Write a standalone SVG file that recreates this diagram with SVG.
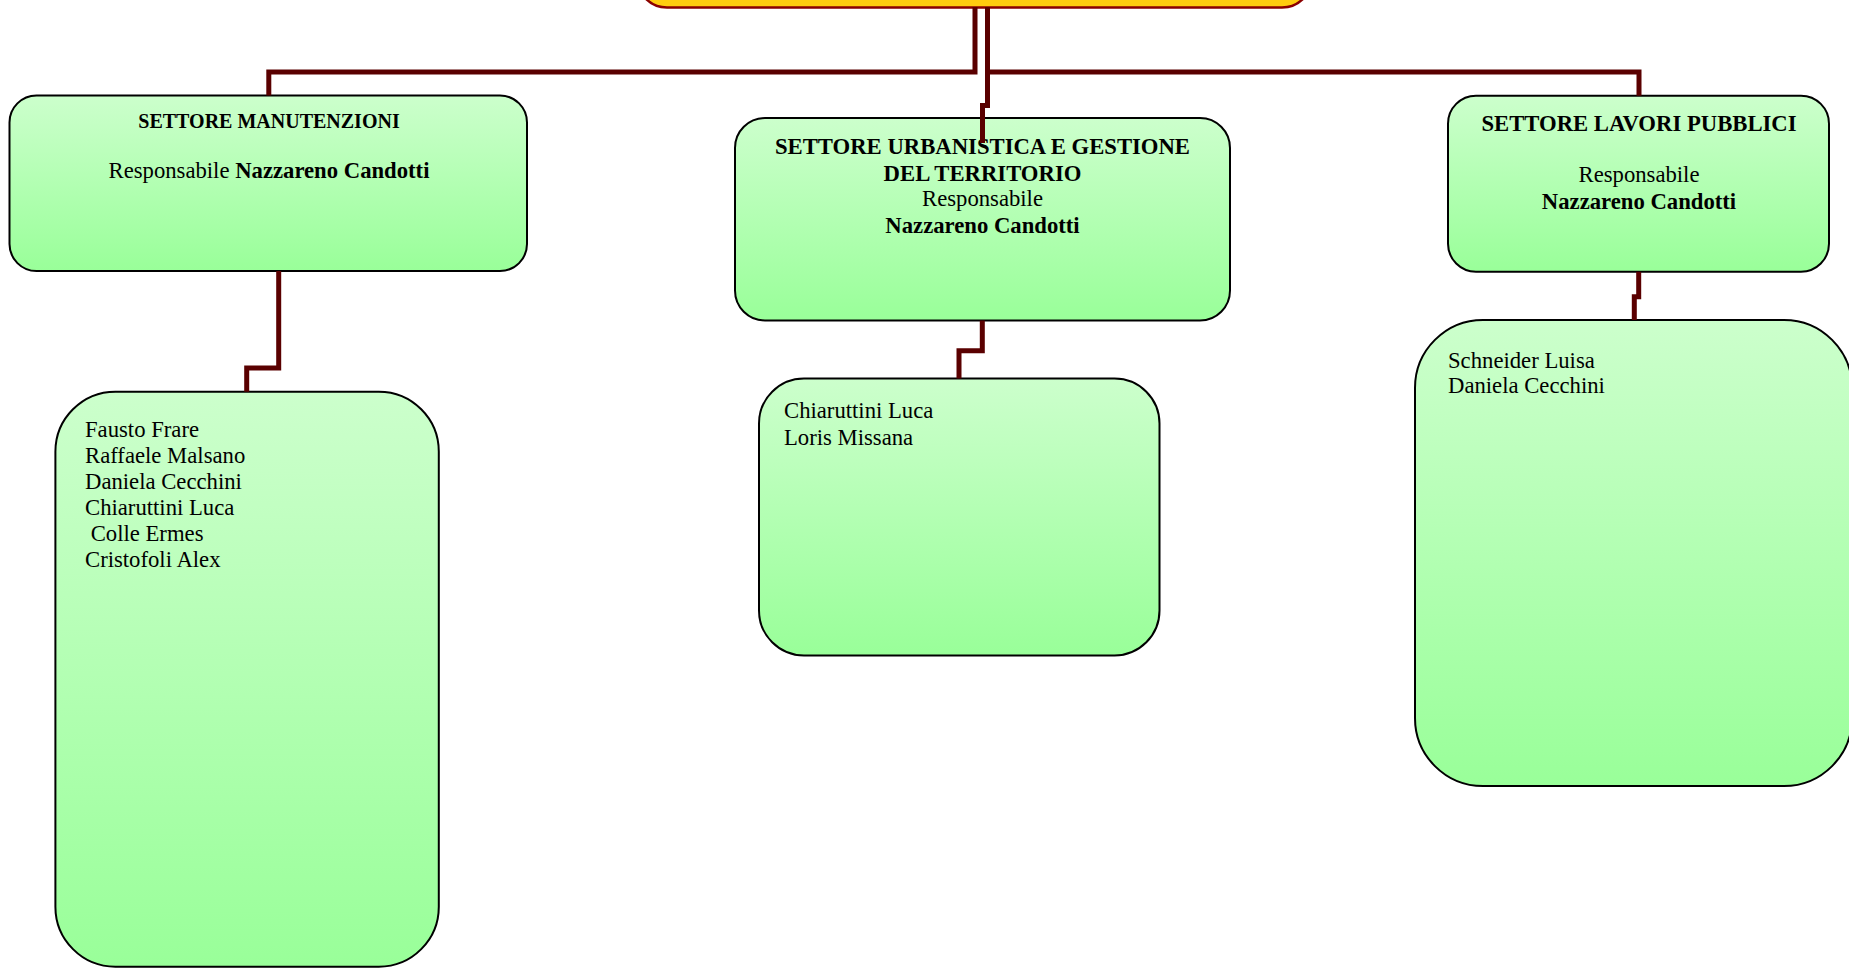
<svg xmlns="http://www.w3.org/2000/svg" width="1849" height="968" viewBox="0 0 1849 968">
<defs>
<linearGradient id="gr" x1="0" y1="0" x2="0" y2="1">
<stop offset="0" stop-color="#ccffcc"/>
<stop offset="1" stop-color="#99ff99"/>
</linearGradient>
<style>
.box{fill:url(#gr);stroke:#000;stroke-width:2}
.top{fill:#ffcc0f;stroke:#8b0000;stroke-width:2.5}
.con{fill:none;stroke:#5a0000;stroke-width:5;stroke-linejoin:miter}
text{font-family:"Liberation Serif","Times New Roman",serif;font-size:22.7px;fill:#000}
.c{text-anchor:middle}
.b{font-weight:bold}
</style>
</defs>
<rect width="1849" height="968" fill="#fff"/>
<g id="node-top">
<rect class="top" x="637" y="-60" width="675" height="67.5" rx="30"/>
</g>
<g id="node-manutenzioni">
<rect class="box" x="9.5" y="95.5" width="517.5" height="175.5" rx="27"/>
<text class="c b" x="269" y="127.5" style="font-size:20px">SETTORE MANUTENZIONI</text>
<text class="c" x="269" y="177.5">Responsabile <tspan class="b">Nazzareno Candotti</tspan></text>
</g>
<g id="node-urbanistica">
<rect class="box" x="735" y="118" width="495" height="202.5" rx="30"/>
<text class="c b" x="982.5" y="154">SETTORE URBANISTICA E GESTIONE</text>
<text class="c b" x="982.5" y="181">DEL TERRITORIO</text>
<text class="c" x="982.5" y="206">Responsabile</text>
<text class="c b" x="982.5" y="233.3">Nazzareno Candotti</text>
</g>
<g id="node-lavori">
<rect class="box" x="1448" y="95.7" width="381" height="176" rx="28"/>
<text class="c b" x="1639" y="130.7">SETTORE LAVORI PUBBLICI</text>
<text class="c" x="1639" y="181.7">Responsabile</text>
<text class="c b" x="1639" y="209.3">Nazzareno Candotti</text>
</g>
<g id="node-staff-manutenzioni">
<rect class="box" x="55.4" y="391.7" width="383.4" height="575" rx="60"/>
<text x="85" y="436.7">Fausto Frare</text>
<text x="85" y="462.7">Raffaele Malsano</text>
<text x="85" y="488.7">Daniela Cecchini</text>
<text x="85" y="514.7">Chiaruttini Luca</text>
<text x="85" y="540.7" xml:space="preserve"> Colle Ermes</text>
<text x="85" y="566.5">Cristofoli Alex</text>
</g>
<g id="node-staff-urbanistica">
<rect class="box" x="759" y="378.5" width="400.5" height="277" rx="45"/>
<text x="784" y="418.3">Chiaruttini Luca</text>
<text x="784" y="445">Loris Missana</text>
</g>
<g id="node-staff-lavori">
<rect class="box" x="1415" y="320" width="437" height="466" rx="68"/>
<text x="1448" y="368">Schneider Luisa</text>
<text x="1448" y="392.7">Daniela Cecchini</text>
</g>
<g id="connectors">
<path class="con" d="M975,7 V72 H268.8 V95.5"/>
<path class="con" d="M987.5,7 V105.5 H982.5 V143"/>
<path class="con" d="M987.5,72 H1639 V95.7"/>
<path class="con" d="M278.7,271 V368 H246.7 V391.7"/>
<path class="con" d="M982.3,320.5 V350.7 H959 V378.5"/>
<path class="con" d="M1638.7,271.7 V296.7 H1634.3 V320"/>
</g>
</svg>
